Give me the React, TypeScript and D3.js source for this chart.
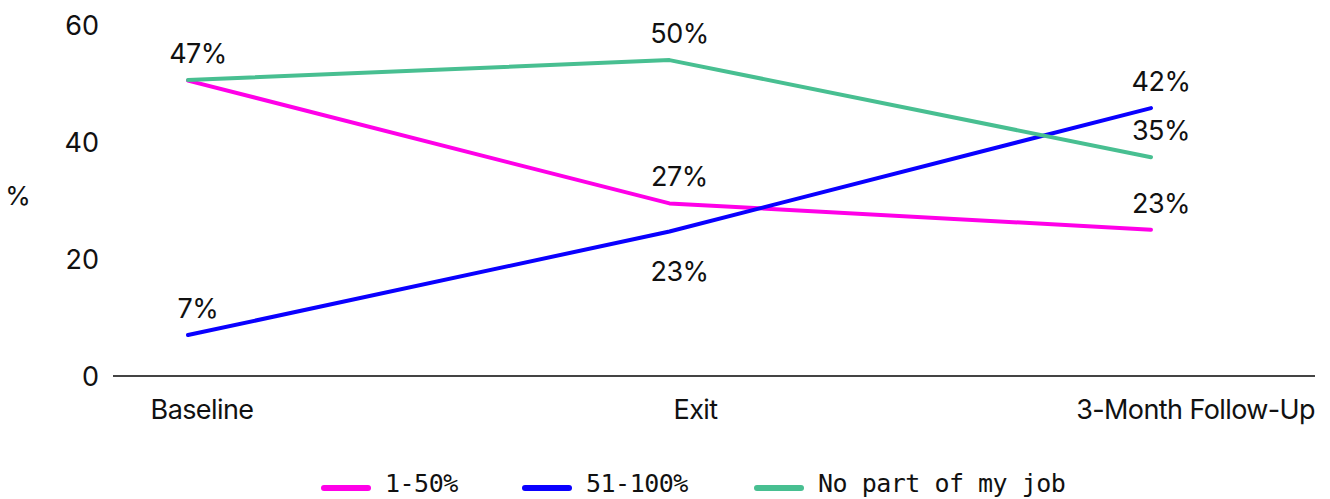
import React from "react";
import * as d3 from "d3";

const categories = ["Baseline", "Exit", "3-Month Follow-Up"];
const seriesNames = ["1-50%", "51-100%", "No part of my job"];
const pinkValues = [50.5, 29.5, 25.0];
const blueValues = [7.0, 24.7, 45.8];
const greenValues = [50.6, 54.0, 37.4];
const pinkLabels = ["", "27%", "23%"];
const blueLabels = ["7%", "23%", "42%"];
const greenLabels = ["47%", "50%", "35%"];
const yTicks = [0, 20, 40, 60];

const W = 1330, H = 499;
const FONT = "Inter, 'Noto Sans', sans-serif";
const LEGEND_FONT = "'DejaVu Sans Mono', monospace";

export default function App() {
  const x = d3.scalePoint<string>().domain(categories).range([188, 1151]);
  const xLabel = d3.scalePoint<string>().domain(categories).range([202, 1189]);
  const y = d3.scaleLinear().domain([0, 60]).range([376, 25]);
  const line = d3
    .line<number>()
    .x((_, i) => x(categories[i]) as number)
    .y((d) => y(d));

  const series = [
    { name: seriesNames[0], values: pinkValues, labels: pinkLabels, color: "#ff00e8", below: [false, false, false] },
    { name: seriesNames[1], values: blueValues, labels: blueLabels, color: "#0a00ff", below: [false, true, false] },
    { name: seriesNames[2], values: greenValues, labels: greenLabels, color: "#48bf91", below: [false, false, false] },
  ];

  const legendX = [322, 523, 755];

  return (
    <svg width={W} height={H} style={{ position: "absolute", left: 0, top: 0, background: "#fff" }}>
      {yTicks.map((t) => (
        <text key={t} x={99} y={y(t)} dy="0.36em" textAnchor="end" fontFamily={FONT} fontSize={27} fill="#111">
          {t}
        </text>
      ))}
      <text x={18} y={196} dy="0.36em" textAnchor="middle" fontFamily={FONT} fontSize={26} fill="#111">%</text>
      <line x1={113} x2={1315} y1={y(0)} y2={y(0)} stroke="#444" strokeWidth={2} />
      {categories.map((c, i) => (
        <text
          key={c}
          x={i === categories.length - 1 ? 1315 : xLabel(c)}
          y={419}
          textAnchor={i === categories.length - 1 ? "end" : "middle"}
          fontFamily={FONT}
          fontSize={27}
          letterSpacing={-0.6}
          fill="#111"
        >
          {c}
        </text>
      ))}
      {series.map((s) => (
        <path key={s.name} d={line(s.values) || ""} fill="none" stroke={s.color} strokeWidth={4} strokeLinecap="round" strokeLinejoin="round" />
      ))}
      {series.map((s) =>
        s.values.map((v, i) =>
          s.labels[i] ? (
            <text
              key={s.name + i}
              x={(x(categories[i]) as number) + 10}
              y={s.below[i] ? y(v) + 49 : y(v) - 17}
              textAnchor="middle"
              fontFamily={FONT}
              fontSize={27}
              letterSpacing={-0.5}
              fill="#111"
            >
              {s.labels[i]}
            </text>
          ) : null
        )
      )}
      {series.map((s, i) => (
        <g key={s.name} transform={`translate(${legendX[i]},488)`}>
          <line x1={2} x2={46} y1={0} y2={0} stroke={s.color} strokeWidth={6} strokeLinecap="round" />
          <text x={63} y={4} fontFamily={LEGEND_FONT} fontSize={25} letterSpacing={-0.5} fill="#111">
            {s.name}
          </text>
        </g>
      ))}
    </svg>
  );
}
